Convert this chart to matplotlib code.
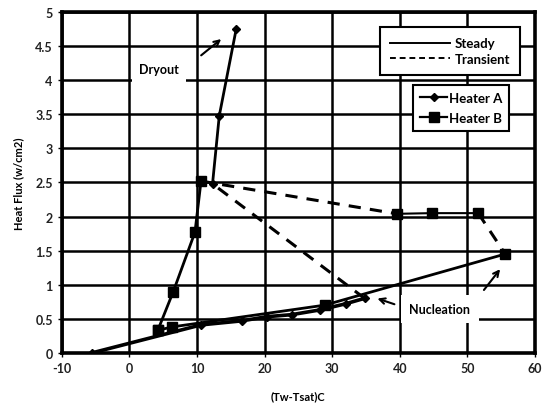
import matplotlib.pyplot as plt
from matplotlib.lines import Line2D

plt.rcParams['font.family'] = ['Lato', 'DejaVu Sans']
plt.rcParams['axes.unicode_minus'] = False

# heater A - steady (diamantes)
a_steady_x = [-5.5, 10.6, 16.7, 20.3, 24.0, 28.2, 32.0, 34.8]
a_steady_y = [0.0, 0.41, 0.47, 0.53, 0.56, 0.63, 0.72, 0.80]
# heater A - subida ate o dryout
a_up_x = [12.3, 13.3, 15.8]
a_up_y = [2.48, 3.48, 4.75]
# heater A - transiente (tracejado)
a_trans_x = [34.8, 12.3]
a_trans_y = [0.80, 2.48]

# heater B - steady (quadrados)
b_steady_x = [4.2, 6.3, 28.9, 55.6]
b_steady_y = [0.33, 0.38, 0.70, 1.45]
# heater B - subida
b_up_x = [4.2, 6.5, 9.7, 10.6]
b_up_y = [0.33, 0.90, 1.77, 2.52]
# heater B - patamar em 2.05
b_flat_x = [39.6, 44.7, 51.6]
b_flat_y = [2.04, 2.05, 2.05]
# heater B - transiente (tracejado)
b_trans1_x = [10.6, 39.6]
b_trans1_y = [2.52, 2.04]
b_trans2_x = [51.6, 55.6]
b_trans2_y = [2.05, 1.45]

xticks = [-10, 0, 10, 20, 30, 40, 50, 60]
yticks = [0, 0.5, 1, 1.5, 2, 2.5, 3, 3.5, 4, 4.5, 5]
ytick_labels = ['0', '0.5', '1', '1.5', '2', '2.5', '3', '3.5', '4', '4.5', '5']

fig = plt.figure(figsize=(5.42, 4.10), dpi=100)
ax = fig.add_axes([0.114, 0.137, 0.873, 0.831])

# linhas steady
ax.plot(a_steady_x, a_steady_y, color='k', lw=2.6, marker='D', ms=4.5, zorder=4)
ax.plot(b_steady_x, b_steady_y, color='k', lw=2.0, marker='s', ms=6.5, zorder=4)
ax.plot(a_up_x, a_up_y, color='k', lw=2.0, marker='D', ms=4.5, zorder=4)
ax.plot(b_up_x, b_up_y, color='k', lw=2.0, marker='s', ms=6.5, zorder=4)
ax.plot(b_flat_x, b_flat_y, color='k', lw=1.5, marker='s', ms=6.5, zorder=4)

# linhas transientes
ax.plot(a_trans_x, a_trans_y, color='k', lw=2.2, ls=(0, (4, 3)), zorder=3)
ax.plot(b_trans1_x, b_trans1_y, color='k', lw=2.2, ls=(0, (4, 3)), zorder=3)
ax.plot(b_trans2_x, b_trans2_y, color='k', lw=2.2, ls=(0, (4, 3)), zorder=3)

ax.set_xlim(-10, 60)
ax.set_ylim(0, 5)
ax.set_xticks(xticks)
ax.set_yticks(yticks)
ax.set_yticklabels(ytick_labels)
ax.grid(True, color='k', lw=1.8)
ax.set_axisbelow(True)
for s in ax.spines.values():
    s.set_linewidth(2.6)
ax.tick_params(labelsize=9, length=3, width=1, colors='k')
for lab in ax.get_xticklabels() + ax.get_yticklabels():
    lab.set_fontweight('bold')
    lab.set_color('#222222')

ax.set_xlabel('(Tw-Tsat)C', fontsize=8, fontweight='bold', labelpad=12)
ax.set_ylabel('Heat Flux (w/cm2)', fontsize=8, fontweight='bold', labelpad=8)

# anotacoes
ax.text(4.4, 4.16, 'Dryout', fontsize=9, fontweight='bold', ha='center', va='center',
        bbox=dict(facecolor='white', edgecolor='none', pad=5), zorder=5)
ax.annotate('', xy=(13.9, 4.63), xytext=(10.3, 4.34),
            arrowprops=dict(arrowstyle='->', color='k', lw=1.5), zorder=5)
ax.text(45.9, 0.645, 'Nucleation', fontsize=9, fontweight='bold', ha='center', va='center',
        bbox=dict(facecolor='white', edgecolor='none', pad=6), zorder=5)
ax.annotate('', xy=(36.3, 0.81), xytext=(39.6, 0.70),
            arrowprops=dict(arrowstyle='->', color='k', lw=1.5), zorder=5)
ax.annotate('', xy=(55.1, 1.26), xytext=(52.2, 0.89),
            arrowprops=dict(arrowstyle='->', color='k', lw=1.5), zorder=5)

# legendas
h1 = [Line2D([], [], color='k', lw=1.4), Line2D([], [], color='k', lw=1.4, ls=(0, (3, 2)))]
leg1 = ax.legend(h1, ['Steady', 'Transient'], loc='upper right', bbox_to_anchor=(0.983, 0.975),
                 fontsize=9.5, frameon=True, fancybox=False, edgecolor='k', handlelength=4.5,
                 borderpad=0.75, labelspacing=0.3, handletextpad=0.4, framealpha=1)
leg1.get_frame().set_linewidth(1.5)
for t in leg1.get_texts():
    t.set_fontweight('bold')
ax.add_artist(leg1)

h2 = [Line2D([], [], color='k', lw=1.6, marker='D', ms=4.5),
      Line2D([], [], color='k', lw=1.6, marker='s', ms=6.5)]
leg2 = ax.legend(h2, ['Heater A', 'Heater B'], loc='upper right', bbox_to_anchor=(0.96, 0.806),
                 fontsize=9.5, frameon=True, fancybox=False, edgecolor='k', handlelength=2.0,
                 borderpad=0.55, labelspacing=0.6, handletextpad=0.15, framealpha=1)
leg2.get_frame().set_linewidth(1.5)
for t in leg2.get_texts():
    t.set_fontweight('bold')

fig.savefig('out.png', dpi=100)
